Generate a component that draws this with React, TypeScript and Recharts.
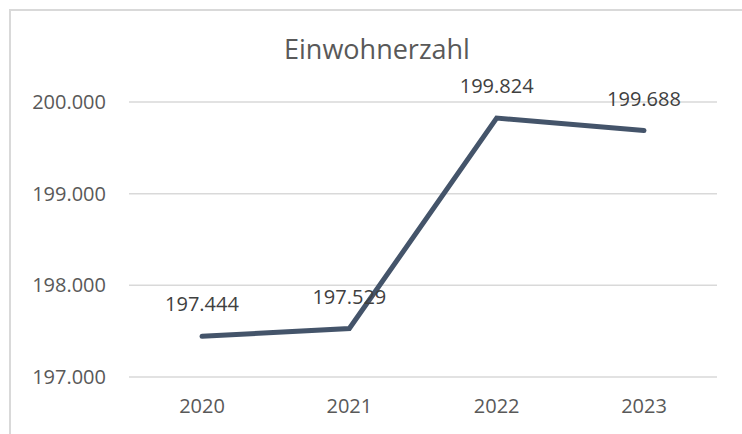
import React from 'react';
import { LineChart, Line, XAxis, YAxis, CartesianGrid, LabelList } from 'recharts';

const years = ['2020', '2021', '2022', '2023'];
const population = [197444, 197529, 199824, 199688];
const yTicks = [197000, 198000, 199000, 200000];

const data = years.map((year, i) => ({ year, value: population[i] }));

const FONT = '"Open Sans", "Noto Sans", sans-serif';

// German thousands separator
const fmt = (v: number) => String(v).replace(/\B(?=(\d{3})+(?!\d))/g, '.');

export default function App() {
    return (
        <div style={{ position: 'absolute', left: 0, top: 0, width: 742, height: 434, background: '#fff', overflow: 'hidden' }}>
            <div style={{ position: 'absolute', left: 9, top: 9, width: 760, height: 460, border: '2px solid #d9d9d9' }} />
            <svg width={742} height={434} style={{ position: 'absolute', left: 0, top: 0 }}>
                <text x={377} y={59} textAnchor="middle" fontFamily={FONT} fontSize={27} fill="#595959">
                    Einwohnerzahl
                </text>
            </svg>
            <div style={{ position: 'absolute', left: 0, top: 0 }}>
                <LineChart width={742} height={434} data={data} margin={{ top: 102, right: 25, bottom: 17, left: 0 }}>
                    <CartesianGrid vertical={false} stroke="#d9d9d9" strokeWidth={1.5} />
                    <XAxis
                        dataKey="year"
                        axisLine={false}
                        tickLine={false}
                        height={40}
                        tickMargin={16}
                        padding={{ left: 73, right: 73 }}
                        tick={{ fill: '#595959', fontSize: 20, fontFamily: FONT }}
                    />
                    <YAxis
                        domain={[197000, 200000]}
                        ticks={yTicks}
                        tickFormatter={fmt}
                        axisLine={false}
                        tickLine={false}
                        width={129}
                        tickMargin={17}
                        tick={{ fill: '#595959', fontSize: 20, fontFamily: FONT }}
                    />
                    <Line
                        type="linear"
                        dataKey="value"
                        stroke="#44546a"
                        strokeWidth={5}
                        strokeLinecap="round"
                        dot={false}
                        activeDot={false}
                        isAnimationActive={false}
                    >
                        <LabelList
                            dataKey="value"
                            position="top"
                            offset={25}
                            formatter={(v: any) => fmt(Number(v))}
                            style={{ fill: '#404040', fontSize: 20, fontFamily: FONT }}
                        />
                    </Line>
                </LineChart>
            </div>
        </div>
    );
}
